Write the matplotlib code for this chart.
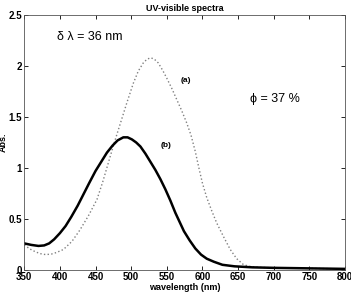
import numpy as np
import matplotlib.pyplot as plt

plt.rcParams['font.family'] = ['Liberation Sans', 'DejaVu Sans']

# spectrum (a) - dotted
wl_a = [350, 358, 365, 372, 380, 388, 395, 405, 417, 428, 440, 452, 460, 468,
        476, 485, 494, 503, 510, 517, 522, 527, 532, 538, 544, 550, 557, 564,
        571, 578, 584, 590, 595, 600, 606, 613, 620, 630, 639, 648, 657, 665,
        680, 700, 750, 800]
abs_a = [0.245, 0.205, 0.18, 0.16, 0.15, 0.155, 0.17, 0.20, 0.28, 0.39, 0.53,
         0.69, 0.86, 1.05, 1.24, 1.44, 1.64, 1.83, 1.95, 2.03, 2.065, 2.08, 2.07,
         2.03, 1.96, 1.88, 1.78, 1.67, 1.56, 1.44, 1.32, 1.16, 1.00, 0.85, 0.71,
         0.58, 0.46, 0.32, 0.20, 0.11, 0.055, 0.035, 0.025, 0.02, 0.015, 0.01]

# spectrum (b) - solid
wl_b = [350, 360, 370, 378, 385, 392, 400, 408, 416, 425, 433, 441, 450, 458,
        466, 474, 481, 489, 495, 501, 507, 513, 520, 527, 534, 541, 548, 555,
        562, 568, 574, 582, 590, 598, 606, 616, 628, 645, 670, 700, 800]
abs_b = [0.26, 0.245, 0.235, 0.24, 0.26, 0.30, 0.36, 0.43, 0.52, 0.63, 0.74,
         0.85, 0.97, 1.06, 1.15, 1.22, 1.27, 1.30, 1.30, 1.28, 1.25, 1.21, 1.14,
         1.06, 0.98, 0.89, 0.79, 0.68, 0.56, 0.47, 0.38, 0.29, 0.21, 0.15, 0.11,
         0.08, 0.05, 0.035, 0.025, 0.02, 0.01]

fig = plt.figure(figsize=(3.51, 2.94), dpi=100)
ax = fig.add_axes([0.069, 0.082, 0.914, 0.867])

ax.plot(wl_a, abs_a, ':', color='#808080', lw=1.0)
ax.plot(wl_b, abs_b, '-', color='black', lw=1.8)

ax.set_xlim(350, 800)
ax.set_ylim(0, 2.5)
ax.set_xticks(np.arange(350, 801, 50))
ax.set_yticks([0, 0.5, 1, 1.5, 2, 2.5])
ax.set_yticklabels(['0', '0.5', '1', '1.5', '2', '2.5'])
ax.tick_params(direction='in', top=True, right=True, length=3, width=0.6,
               labelsize=7, pad=1.5)
for lab in ax.get_xticklabels() + ax.get_yticklabels():
    lab.set_fontweight('bold')
for s in ax.spines.values():
    s.set_linewidth(0.6)
    s.set_color('#555555')

ax.set_title('UV-visible spectra', fontsize=6.5, fontweight='bold', pad=3)
ax.set_xlabel('wavelength (nm)', fontsize=6.5, fontweight='bold', labelpad=1)
ax.set_ylabel('Abs.', fontsize=6.5, fontweight='bold')
ax.yaxis.set_label_coords(-0.05, 0.5)

ax.text(396, 2.28, 'δ λ = 36 nm', fontsize=9, va='center')
ax.text(667, 1.68, 'ϕ = 37 %', fontsize=9, va='center')
ax.text(569, 1.86, '(a)', fontsize=6, fontweight='bold', va='center')
ax.text(541, 1.22, '(b)', fontsize=6, fontweight='bold', va='center')

fig.savefig('out.png', dpi=100)
